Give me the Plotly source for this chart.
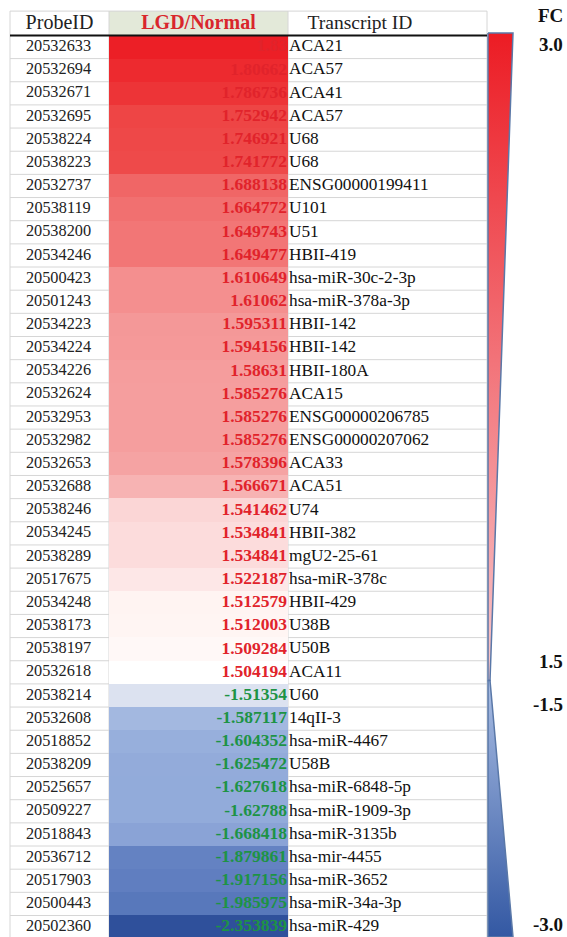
import plotly.graph_objects as go

# ---------------- data ----------------
probe_ids = [
    "20532633", "20532694", "20532671", "20532695", "20538224", "20538223",
    "20532737", "20538119", "20538200", "20534246", "20500423", "20501243",
    "20534223", "20534224", "20534226", "20532624", "20532953", "20532982",
    "20532653", "20532688", "20538246", "20534245", "20538289", "20517675",
    "20534248", "20538173", "20538197", "20532618", "20538214", "20532608",
    "20518852", "20538209", "20525657", "20509227", "20518843", "20536712",
    "20517903", "20500443", "20502360",
]
fold_change = [
    1.83, 1.80662, 1.786736, 1.752942, 1.746921, 1.741772,
    1.688138, 1.664772, 1.649743, 1.649477, 1.610649, 1.61062,
    1.595311, 1.594156, 1.58631, 1.585276, 1.585276, 1.585276,
    1.578396, 1.566671, 1.541462, 1.534841, 1.534841, 1.522187,
    1.512579, 1.512003, 1.509284, 1.504194, -1.51354, -1.587117,
    -1.604352, -1.625472, -1.627618, -1.62788, -1.668418, -1.879861,
    -1.917156, -1.985975, -2.353839,
]
transcript_ids = [
    "ACA21", "ACA57", "ACA41", "ACA57", "U68", "U68",
    "ENSG00000199411", "U101", "U51", "HBII-419", "hsa-miR-30c-2-3p", "hsa-miR-378a-3p",
    "HBII-142", "HBII-142", "HBII-180A", "ACA15", "ENSG00000206785", "ENSG00000207062",
    "ACA33", "ACA51", "U74", "HBII-382", "mgU2-25-61", "hsa-miR-378c",
    "HBII-429", "U38B", "U50B", "ACA11", "U60", "14qII-3",
    "hsa-miR-4467", "U58B", "hsa-miR-6848-5p", "hsa-miR-1909-3p", "hsa-miR-3135b", "hsa-mir-4455",
    "hsa-miR-3652", "hsa-miR-34a-3p", "hsa-miR-429",
]
headers = ["ProbeID", "LGD/Normal", "Transcript ID"]
legend_title = "FC"
legend_levels = [3.0, 1.5, -1.5, -3.0]
legend_labels = ["3.0", "1.5", "-1.5", "-3.0"]

# ---------------- style ----------------
W, H = 567, 937
SERIF = "Liberation Serif, Times New Roman, serif"
RED_TXT = "#e1232b"
GREEN_TXT = "#1d9345"
GRID = "#d6d6d6"

x_left, x_c1, x_c2, x_right = 10, 109, 288, 487
n = len(probe_ids)
row_px = 23.16
y_top = -47 / row_px
y_bot = y_top + H / row_px

zmin, zmax = min(fold_change), max(fold_change)

def pos(v):
    return (v - zmin) / (zmax - zmin)

stops = [
    (-2.353839, "#2f509b"), (-1.985975, "#5878bb"), (-1.879861, "#6482c2"),
    (-1.668418, "#8aa3d6"), (-1.6, "#98b0dc"), (-1.587117, "#a3b8e0"),
    (-1.51354, "#dce2f0"), (1.504194, "#ffffff"), (1.512, "#fff5f3"),
    (1.522187, "#fde7e7"), (1.541462, "#fbd6d6"), (1.566671, "#f7b3b3"),
    (1.58, "#f5a1a1"), (1.61, "#f48f8f"), (1.65, "#f27676"),
    (1.69, "#f06565"), (1.75, "#ee4646"), (1.83, "#ec1f26"),
]
colorscale = [[max(0.0, min(1.0, pos(v))), c] for v, c in stops]

fig = go.Figure()

# heat column
fig.add_trace(go.Heatmap(
    z=[[v] for v in fold_change],
    x=[x_c1, x_c2],
    y=[i - 0.5 for i in range(n + 1)],
    zmin=zmin, zmax=zmax, colorscale=colorscale,
    showscale=False, hoverinfo="skip",
))

rows = list(range(n))

# probe ids
fig.add_trace(go.Scatter(
    x=[(x_left + x_c1) / 2 - 1] * n, y=rows, mode="text", text=probe_ids,
    textposition="middle center",
    textfont=dict(family=SERIF, size=16.3, color="#222222"),
    hoverinfo="skip", showlegend=False,
))
# values
fig.add_trace(go.Scatter(
    x=[x_c2 - 1] * n, y=rows, mode="text", text=[str(v) for v in fold_change],
    textposition="middle left",
    textfont=dict(family=SERIF, size=17.5, color=[RED_TXT if v > 0 else GREEN_TXT for v in fold_change],
                  weight="bold"),
    hoverinfo="skip", showlegend=False,
))
# transcripts
fig.add_trace(go.Scatter(
    x=[x_c2 + 1] * n, y=rows, mode="text", text=transcript_ids,
    textposition="middle right",
    textfont=dict(family=SERIF, size=17.3, color="#111111"),
    hoverinfo="skip", showlegend=False,
))
# headers
fig.add_trace(go.Scatter(
    x=[(x_left + x_c1) / 2, (x_c1 + x_c2) / 2, 360], y=[-1, -1, -1], mode="text",
    text=headers, textposition="middle center",
    textfont=dict(family=SERIF, size=[20, 20, 19.5],
                  color=["#222222", "#d9262c", "#222222"],
                  weight=[400, 700, 400]),
    hoverinfo="skip", showlegend=False,
))

shapes = []
# header background of value column
shapes.append(dict(type="rect", x0=x_c1, x1=x_c2, y0=-1.55, y1=-0.5,
                   fillcolor="#e3e9d9", line=dict(width=0), layer="below"))
# horizontal grid lines
for i in range(n):
    yy = i + 0.5
    for a, b in ((x_left, x_c1), (x_c2, x_right)):
        shapes.append(dict(type="line", x0=a, x1=b, y0=yy, y1=yy,
                           line=dict(color=GRID, width=1)))
shapes.append(dict(type="line", x0=x_left, x1=x_right, y0=-1.55, y1=-1.55,
                   line=dict(color=GRID, width=1)))
for xx in (x_left, x_c1, x_c2, x_right):
    shapes.append(dict(type="line", x0=xx, x1=xx, y0=-1.55, y1=n - 0.5,
                       line=dict(color=GRID, width=1), layer="below"))
# thick header rule
shapes.append(dict(type="line", x0=x_left, x1=x_right, y0=-0.5, y1=-0.5,
                   line=dict(color="#111111", width=2)))

# tapered legend bar
bar_l, bar_r, bar_tip = 488, 513, 490
y_leg_top, y_leg_mid, y_leg_bot = -0.6, 27.35, y_bot
fig.add_trace(go.Scatter(
    x=[bar_l, bar_r, bar_tip, bar_l, bar_l], y=[y_leg_top, y_leg_top, y_leg_mid, y_leg_mid, y_leg_top],
    mode="lines", fill="toself",
    fillgradient=dict(type="vertical", colorscale=[[0, "#ec1c24"], [1, "#f8c8cc"]],
                      start=y_leg_top, stop=y_leg_mid),
    line=dict(color="#5a78a8", width=1.5), hoverinfo="skip", showlegend=False,
))
fig.add_trace(go.Scatter(
    x=[bar_l, bar_tip, bar_r, bar_l, bar_l], y=[y_leg_mid, y_leg_mid, y_leg_bot, y_leg_bot, y_leg_mid],
    mode="lines", fill="toself",
    fillgradient=dict(type="vertical", colorscale=[[0, "#a9bde3"], [1, "#3358a3"]],
                      start=y_leg_mid, stop=y_leg_bot),
    line=dict(color="#5a78a8", width=1.5), hoverinfo="skip", showlegend=False,
))

# legend labels
leg_y = {3.0: -0.1, 1.5: 26.55, -1.5: 28.4, -3.0: 37.9}
annotations = [dict(x=565, y=-1.38, text=f"<b>{legend_title}</b>", xanchor="right",
                    yanchor="middle", showarrow=False,
                    font=dict(family=SERIF, size=19, color="#111111"))]
for v, lab in zip(legend_levels, legend_labels):
    annotations.append(dict(x=565, y=leg_y[v], text=f"<b>{lab}</b>", xanchor="right",
                            yanchor="middle", showarrow=False,
                            font=dict(family=SERIF, size=19, color="#111111")))

fig.update_layout(
    width=W, height=H, margin=dict(l=0, r=0, t=0, b=0),
    paper_bgcolor="white", plot_bgcolor="white",
    xaxis=dict(range=[0, W], visible=False, fixedrange=True),
    yaxis=dict(range=[y_bot, y_top], visible=False, fixedrange=True),
    shapes=shapes, annotations=annotations, showlegend=False,
)

fig.write_html("out.html", config={"displayModeBar": False},
               post_script="document.body.style.margin='0';")
